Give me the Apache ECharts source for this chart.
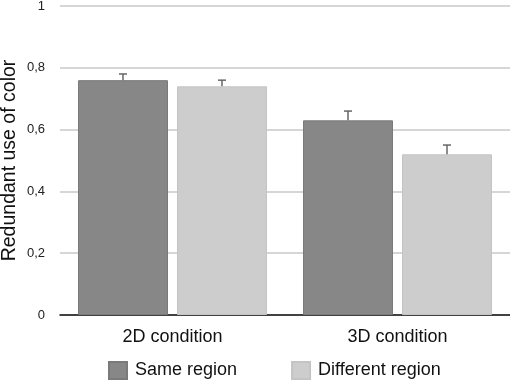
<!DOCTYPE html>
<html>
<head>
<meta charset="utf-8">
<script src="https://cdn.jsdelivr.net/npm/echarts@6/dist/echarts.min.js"></script>
<style>
  html, body { margin: 0; padding: 0; background: #fff; }
  #chart { width: 510px; height: 381px; }
</style>
</head>
<body>
<div id="chart"></div>
<script>
// data
const categories = ["2D condition", "3D condition"];
const seriesNames = ["Same region", "Different region"];
const sameRegion = [0.76, 0.63];
const differentRegion = [0.74, 0.52];
// upper end of the error bars
const sameRegionErr = [0.78, 0.66];
const differentRegionErr = [0.76, 0.55];
const yTicks = [0, 0.2, 0.4, 0.6, 0.8, 1];

const fontFamily = "'Liberation Sans', Arial, Helvetica, sans-serif";
const colors = ["#878787", "#cdcdcd"];
const borders = ["#7a7a7a", "#c4c4c4"];

const chart = echarts.init(document.getElementById("chart"));

// error bar drawn on top of a bar; offset is a fraction of band width
function errorBar(values, tops, offset) {
  return {
    type: "custom",
    silent: true,
    z: 5,
    data: values.map((v, i) => [i, v, tops[i]]),
    renderItem: function (params, api) {
      const band = api.size([1, 0])[0];
      const base = api.coord([api.value(0), api.value(1)]);
      const top = api.coord([api.value(0), api.value(2)]);
      const x = base[0] + band * offset;
      const style = { stroke: "#666", lineWidth: 1.5 };
      return {
        type: "group",
        children: [
          { type: "line", shape: { x1: x, y1: base[1], x2: x, y2: top[1] }, style: style },
          { type: "line", shape: { x1: x - 4, y1: top[1], x2: x + 4, y2: top[1] }, style: style }
        ]
      };
    }
  };
}

const option = {
  animation: false,
  textStyle: { fontFamily: fontFamily },
  grid: { left: 60, right: 0, top: 6, bottom: 66, containLabel: false, outerBoundsMode: "none" },
  legend: {
    left: 103,
    top: 356,
    itemWidth: 18,
    itemHeight: 17,
    itemGap: 54,
    icon: "rect",
    textStyle: { fontSize: 18, color: "#111", fontFamily: fontFamily, padding: [0, 0, 0, 3] },
    data: seriesNames
  },
  xAxis: {
    type: "category",
    data: categories,
    axisLine: { lineStyle: { color: "#111", width: 1.5 } },
    axisTick: { show: false },
    axisLabel: { fontSize: 18, color: "#111", margin: 13 }
  },
  yAxis: {
    type: "value",
    min: yTicks[0],
    max: yTicks[yTicks.length - 1],
    interval: 0.2,
    name: "Redundant use of color",
    nameLocation: "middle",
    nameGap: 40,
    nameMoveOverlap: false,
    nameTextStyle: { fontSize: 19.5, color: "#111" },
    axisLine: { show: false },
    axisTick: { show: false },
    splitLine: { lineStyle: { color: "#c8c8c8", width: 1.5 } },
    axisLabel: {
      fontSize: 13,
      color: "#222",
      margin: 15,
      formatter: v => String(Math.round(v * 10) / 10).replace(".", ",")
    }
  },
  series: [
    {
      name: seriesNames[0],
      type: "bar",
      data: sameRegion,
      barWidth: "40%",
      barGap: "10%",
      itemStyle: { color: colors[0], borderColor: borders[0], borderWidth: 1 }
    },
    {
      name: seriesNames[1],
      type: "bar",
      data: differentRegion,
      barWidth: "40%",
      barGap: "10%",
      itemStyle: { color: colors[1], borderColor: borders[1], borderWidth: 1 }
    },
    errorBar(sameRegion, sameRegionErr, -0.22),
    errorBar(differentRegion, differentRegionErr, 0.22)
  ]
};

chart.setOption(option);
</script>
</body>
</html>
